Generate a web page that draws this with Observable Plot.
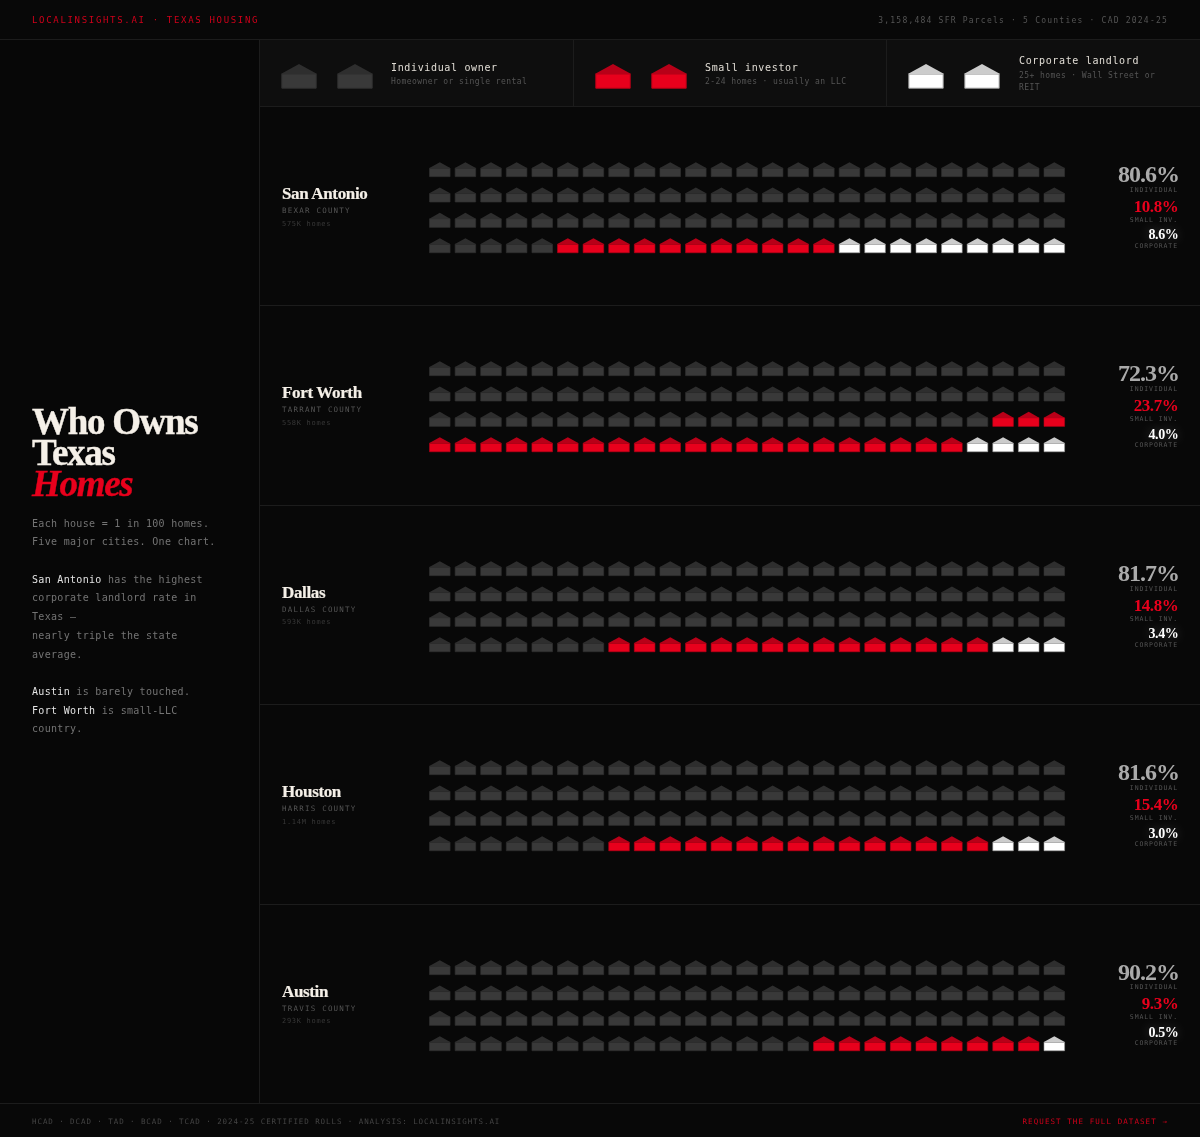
<!DOCTYPE html>
<html><head><meta charset="utf-8">
<script src="https://cdn.jsdelivr.net/npm/d3@7"></script>
<script src="https://cdn.jsdelivr.net/npm/@observablehq/plot@0.6"></script>
<style>
html,body{margin:0;padding:0;background:#080808;}
#page{position:relative;width:1200px;height:1137px;overflow:hidden;background:#080808;font-family:"DejaVu Sans Mono",monospace;}
#page div,#page span{white-space:nowrap;}
.a{position:absolute;line-height:1;will-change:opacity;}
.hl{position:absolute;background:#1c1c1c;}
.serif{font-family:"Liberation Serif",serif;font-weight:700;}
svg{position:absolute;background:transparent;overflow:visible;}
</style></head><body><div id="page"></div>
<script>
const cities=["San Antonio","Fort Worth","Dallas","Houston","Austin"];
const counties=["BEXAR COUNTY","TARRANT COUNTY","DALLAS COUNTY","HARRIS COUNTY","TRAVIS COUNTY"];
const homes=["575K homes","558K homes","593K homes","1.14M homes","293K homes"];
const pctIndividual=[80.6,72.3,81.7,81.6,90.2];
const pctSmall=[10.8,23.7,14.8,15.4,9.3];
const pctCorporate=[8.6,4.0,3.4,3.0,0.5];
const housesIndividual=[80,72,82,82,90];
const housesSmall=[11,24,15,15,9];
const housesCorporate=[9,4,3,3,1];
const legendNames=["Individual owner","Small investor","Corporate landlord"];
const legendNotes=[["Homeowner or single rental"],["2-24 homes · usually an LLC"],["25+ homes · Wall Street or","REIT"]];
const statLabels=["INDIVIDUAL","SMALL INV.","CORPORATE"];

const bodyFill={i:"#393939",s:"#e8001c",c:"#ffffff"};
const bodyStroke={i:"#303030",s:"#b80018",c:"#999999"};
const roofFill={i:"#2e2e2e",s:"#b80018",c:"#cccccc"};

// House pieces as Plot symbols; size = pi r^2, r = half of the house width
const unit=size=>Math.sqrt(size/Math.PI)/18;
const bodySymbol={draw(c,size){const u=unit(size);c.moveTo(-17*u,-2*u);c.lineTo(17*u,-2*u);c.lineTo(17*u,12*u);c.lineTo(-17*u,12*u);c.closePath();}};
const roofSymbol={draw(c,size){const u=unit(size);c.moveTo(0,-12*u);c.lineTo(18*u,-2*u);c.lineTo(-18*u,-2*u);c.closePath();}};

function houseMarks(data,r,sw){
  return [
    Plot.dot(data,{x:"col",y:"row",r,symbol:bodySymbol,fill:d=>bodyFill[d.k],stroke:d=>bodyStroke[d.k],strokeWidth:sw}),
    Plot.dot(data,{x:"col",y:"row",r,symbol:roofSymbol,fill:d=>roofFill[d.k]})
  ];
}

const page=document.getElementById("page");
function el(cls,style,html,parent){const d=document.createElement("div");d.className=cls;d.style.cssText=style;d.innerHTML=html;(parent||page).appendChild(d);return d;}

// frame
el("a","left:0;top:40px;width:259px;height:1063px;background:#070707;","");
el("hl","left:0;top:39px;width:1200px;height:1px","");
el("hl","left:259px;top:40px;width:1px;height:1063px","");
el("hl","left:0;top:1103px;width:1200px;height:1px","");

// header
el("a","left:32px;top:15.5px;font-size:9px;letter-spacing:1.68px;color:#d0001a","LOCALINSIGHTS.AI · TEXAS HOUSING");
el("a","right:32px;top:17px;font-size:8px;letter-spacing:1.22px;color:#555","3,158,484 SFR Parcels · 5 Counties · CAD 2024-25");

// sidebar
el("a","left:32px;top:406px;font-size:37px;line-height:31px;letter-spacing:-1.3px;color:#f5f0e8;width:220px;white-space:normal;-webkit-text-stroke:.4px currentColor","<div class='serif'>Who Owns</div><div class='serif'>Texas</div><div class='serif' style='font-style:italic;color:#e8001c'>Homes</div>");
const sideLines=[
 [519,"Each house = 1 in 100 homes."],[537,"Five major cities. One chart."],
 [575,"<b>San Antonio</b> has the highest"],[593,"corporate landlord rate in"],[612,"Texas —"],[631,"nearly triple the state"],[650,"average."],
 [687,"<b>Austin</b> is barely touched."],[706,"<b>Fort Worth</b> is small-LLC"],[724,"country."]];
sideLines.forEach(([y,t])=>el("a side",`left:32px;top:${y}px;font-size:10px;letter-spacing:.31px;color:#747474`,t));
page.querySelectorAll(".side b").forEach(b=>{b.style.cssText="color:#e4e4e4;font-weight:400";});

// legend
const cellX=[260,574,887],cellW=[313,312,313];
legendNames.forEach((name,i)=>{
  el("a",`left:${cellX[i]}px;top:40px;width:${cellW[i]}px;height:66px;background:#0e0e0e`,"");
  if(i) el("hl",`left:${cellX[i]-1}px;top:40px;width:1px;height:66px`,"");
  const k=["i","s","c"][i];
  const data=[{col:0,row:0,k},{col:1,row:0,k}];
  const svg=Plot.plot({width:130,height:30,margin:0,x:{axis:null,domain:[0,1],range:[37.5,93.5]},y:{axis:null,domain:[0,1],range:[14.6,14.6]},marks:houseMarks(data,18.2,1)});
  svg.style.left=(cellX[i]+1)+"px";svg.style.top="61px";page.appendChild(svg);
  const tx=cellX[i]+131+(i==2?1:0);
  const notes=legendNotes[i];
  const multi=notes.length>1;
  el("a",`left:${tx}px;top:${multi?56:63}px;font-size:10px;letter-spacing:.65px;color:#e0dcd4`,name);
  notes.forEach((n,j)=>el("a",`left:${tx}px;top:${(multi?71.5:77.5)+j*12}px;font-size:8px;letter-spacing:.42px;color:#555`,n));
});
el("hl","left:260px;top:106px;width:940px;height:1px","");

// rows
const rowH=199.4;
cities.forEach((city,i)=>{
  const top=106+i*rowH;
  if(i) el("hl",`left:260px;top:${Math.round(top)}px;width:940px;height:1px`,"");
  el("a serif",`left:282px;top:${top+79}px;font-size:17px;letter-spacing:-.35px;color:#f5f0e8;-webkit-text-stroke:.2px currentColor`,city);
  el("a",`left:282px;top:${top+101}px;font-size:7.5px;letter-spacing:1.22px;color:#555`,counties[i]);
  el("a",`left:282px;top:${top+114.5}px;font-size:7px;letter-spacing:.7px;color:#383838`,homes[i]);
  // waffle
  const kinds=[...Array(housesIndividual[i]).fill("i"),...Array(housesSmall[i]).fill("s"),...Array(housesCorporate[i]).fill("c")];
  const data=kinds.map((k,n)=>({k,col:n%25,row:Math.floor(n/25)}));
  const svg=Plot.plot({width:656,height:110,margin:0,
    x:{axis:null,domain:[0,24],range:[20.3,634.8]},
    y:{axis:null,domain:[0,3],range:[12.9,89]},
    marks:houseMarks(data,10.9,.6)});
  svg.style.left="419px";svg.style.top=(top+50)+"px";page.appendChild(svg);
  // stats
  el("a serif",`right:21px;top:${top+55.9}px;font-size:24px;letter-spacing:-1px;color:#aaaaaa`,pctIndividual[i].toFixed(1)+"%");
  el("a",`right:22px;top:${top+80.75}px;font-size:6.5px;letter-spacing:.9px;color:#555`,statLabels[0]);
  el("a serif",`right:21.6px;top:${top+91.8}px;font-size:17px;letter-spacing:-.4px;color:#e8001c`,pctSmall[i].toFixed(1)+"%");
  el("a",`right:22px;top:${top+110.75}px;font-size:6.5px;letter-spacing:.9px;color:#555`,statLabels[1]);
  el("a serif",`right:21.6px;top:${top+122.3}px;font-size:14px;letter-spacing:-.4px;color:#fff;text-shadow:0 0 12px rgba(255,255,255,.3)`,pctCorporate[i].toFixed(1)+"%");
  el("a",`right:22px;top:${top+136.75}px;font-size:6.5px;letter-spacing:.9px;color:#555`,statLabels[2]);
});

// footer
el("a","left:32px;top:1118px;font-size:7.5px;letter-spacing:.93px;color:#444","HCAD · DCAD · TAD · BCAD · TCAD · 2024-25 CERTIFIED ROLLS · ANALYSIS: LOCALINSIGHTS.AI");
el("a","right:32px;top:1118px;font-size:7.5px;letter-spacing:1.08px;color:#d0001a","REQUEST THE FULL DATASET →");
</script></body></html>
